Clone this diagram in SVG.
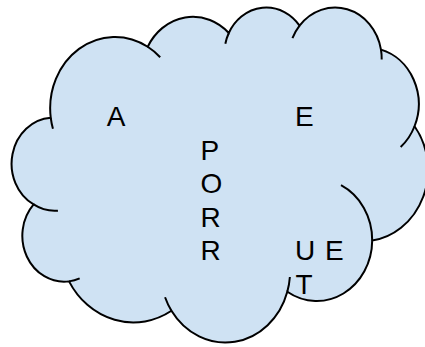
<svg xmlns="http://www.w3.org/2000/svg" width="425" height="347" viewBox="0 0 425 347">
<style>
.body{fill:#cfe2f3;stroke:#000;stroke-width:2}
.stub{fill:none;stroke:#000;stroke-width:2}
.lbl{font-family:"Liberation Sans",Arial,sans-serif;font-size:28px;fill:#000}
</style>
<rect width="425" height="347" fill="#ffffff"/>
<g id="cloud">
<g transform="translate(13.35 6.41) scale(0.009594 0.007752)">
<path class="body" vector-effect="non-scaling-stroke" d="M3900 14370 A6753 9190 0 0 1 14005 5202 A5333 7267 0 0 1 22456 3432 A4365 5945 0 0 1 29833 2481 A4857 6595 0 0 1 38318 5576 A5333 7273 0 0 1 41818 15460 A6775 9220 0 0 1 37404 30203 A5785 7867 0 0 1 28556 36813 A6752 9215 0 0 1 16480 39264 A7720 10543 0 0 1 5804 35470 A4360 5918 0 0 1 2113 25548 A4345 5945 0 0 1 3900 14370 Z"/>
<path class="stub" vector-effect="non-scaling-stroke" d="M4646 26345 A4345 5945 0 0 1 2113 25548 M6913 35089 A4360 5918 0 0 1 5804 35470 M16480 39264 A6752 9215 0 0 1 15812 37523 M28823 34904 A6752 9215 0 0 1 28556 36813 M34152 23067 A5785 7867 0 0 1 37404 30203 M41818 15460 A5333 7273 0 0 1 40370 18136 M38318 5576 A4857 6595 0 0 1 38395 6840 M29091 4093 A4857 6595 0 0 1 29833 2481 M22097 4822 A4365 5945 0 0 1 22456 3432 M14005 5202 A6753 9190 0 0 1 15305 6551 M4127 15788 A6753 9190 0 0 1 3900 14370"/>
</g>
<text class="lbl" x="106.7" y="126">A</text>
<text class="lbl" x="295" y="126">E</text>
<text class="lbl" x="200.5"><tspan x="200.5" y="159.5">P</tspan><tspan x="200.5" y="193">O</tspan><tspan x="200.5" y="226.7">R</tspan><tspan x="200.5" y="260.2">R</tspan></text>
<text class="lbl" x="295" word-spacing="2"><tspan x="295" y="260.2">U E</tspan><tspan x="295.5" y="294">T</tspan></text>
</g>
</svg>
